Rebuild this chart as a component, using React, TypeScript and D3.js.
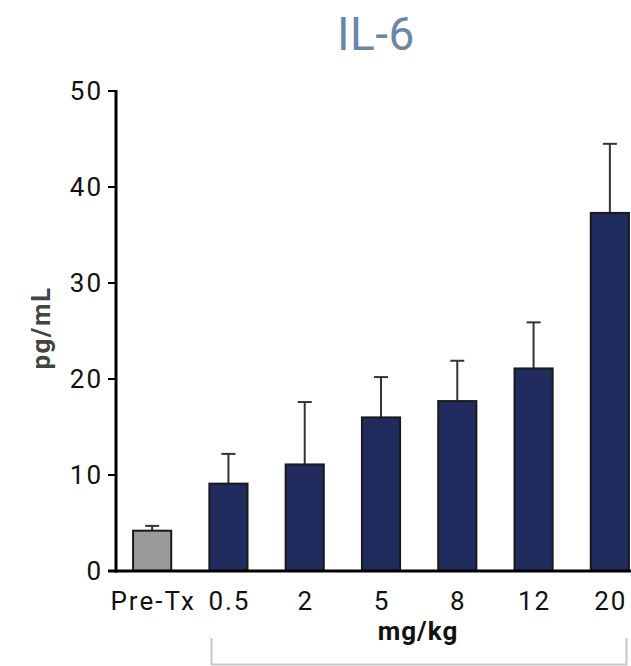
import React from "react";
import * as d3 from "d3";

const categories = ["Pre-Tx", "0.5", "2", "5", "8", "12", "20"];
const means = [4.2, 9.1, 11.1, 16.0, 17.7, 21.1, 37.3];
const errTops = [4.7, 12.2, 17.6, 20.2, 21.9, 25.9, 44.5];
const yTicks = [0, 10, 20, 30, 40, 50];

export default function App() {
  const W = 631, H = 666;
  const x = d3.scaleBand<string>().domain(categories).range([114, 648]).paddingInner(0.5).paddingOuter(0.25);
  const y = d3.scaleLinear().domain([0, 50]).range([571, 91]);
  const font = "Roboto, 'DejaVu Sans', sans-serif";
  const bw = x.bandwidth();
  return (
    <svg width={W} height={H} style={{ position: "absolute", left: 0, top: 0 }}>
      <text x={376} y={50} textAnchor="middle" fontFamily={font} fontSize={46} fill="#6a87a8" letterSpacing={0.5}>IL-6</text>
      {categories.map((c, i) => {
        const cx = (x(c) as number) + bw / 2;
        return (
          <g key={c}>
            <line x1={cx} x2={cx} y1={y(means[i])} y2={y(errTops[i])} stroke="#333" strokeWidth={2} />
            <line x1={cx - 7} x2={cx + 7} y1={y(errTops[i])} y2={y(errTops[i])} stroke="#333" strokeWidth={2} />
            <rect x={x(c)} y={y(means[i])} width={bw} height={y(0) - y(means[i])}
              fill={i === 0 ? "#9a9a9a" : "#212c5e"} stroke="#1a1a1a" strokeWidth={2} />
            <text x={cx + 1} y={610} textAnchor="middle" fontFamily={font} fontSize={26} letterSpacing={2} fill="#111">{c}</text>
          </g>
        );
      })}
      <line x1={116} x2={116} y1={90} y2={572.5} stroke="#000" strokeWidth={3} />
      <line x1={108} x2={631} y1={571} y2={571} stroke="#000" strokeWidth={3} />
      {yTicks.map(t => (
        <g key={t}>
          <line x1={108} x2={116} y1={y(t)} y2={y(t)} stroke="#000" strokeWidth={2} />
          <text x={103} y={y(t) + 9} textAnchor="end" fontFamily={font} fontSize={26} letterSpacing={2} fill="#111">{t}</text>
        </g>
      ))}
      <text transform="translate(50,328) rotate(-90)" textAnchor="middle" fontFamily={font} fontSize={26} fontWeight="bold" letterSpacing={1.5} fill="#444">pg/mL</text>
      <text x={418} y={640} textAnchor="middle" fontFamily={font} fontSize={26} fontWeight="bold" letterSpacing={1} fill="#111">mg/kg</text>
      <path d="M211.5,638 V664.5 H626.5 V638" fill="none" stroke="#c8c8c8" strokeWidth={2} />
    </svg>
  );
}
